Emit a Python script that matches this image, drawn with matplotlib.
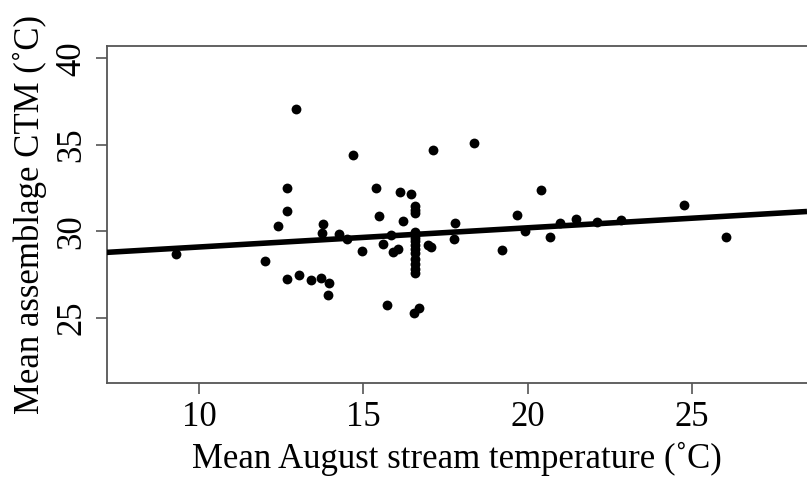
import matplotlib
matplotlib.use("Agg")
import matplotlib.pyplot as plt
import numpy as np

# Mean August stream temperature (x) and mean assemblage CTM (y)
stream_temp = [
    9.29, 12.02, 12.41, 12.68, 12.68, 12.68, 12.94, 13.05, 13.41, 13.73,
    13.77, 13.74, 13.96, 13.93, 14.27, 14.50, 14.69, 14.96, 15.39, 15.48,
    15.59, 15.72, 15.91, 16.07, 15.85, 16.13, 16.21, 16.46,
    16.58, 16.58, 16.58, 16.58, 16.58, 16.58, 16.58, 16.58, 16.58, 16.58,
    16.58, 16.58, 16.58, 16.58,
    16.55, 16.70, 16.98, 17.05, 17.13, 17.77, 17.78, 18.38, 19.23, 19.67,
    19.93, 20.40, 20.69, 21.00, 21.48, 22.11, 22.85, 24.76, 26.05,
]
ctm = [
    28.70, 28.28, 30.33, 32.51, 31.17, 27.23, 37.08, 27.46, 27.16, 27.32,
    30.42, 29.91, 27.01, 26.31, 29.84, 29.54, 34.41, 28.85, 32.51, 30.89,
    29.27, 25.75, 28.78, 28.99, 29.77, 32.29, 30.61, 32.15,
    31.45, 31.25, 31.05, 29.97, 29.80, 29.62, 29.42, 29.20, 28.97, 28.72,
    28.40, 28.12, 27.84, 27.56,
    25.28, 25.58, 29.23, 29.10, 34.69, 29.55, 30.48, 35.11, 28.92, 30.95,
    30.02, 32.36, 29.68, 30.50, 30.69, 30.55, 30.63, 31.53, 29.68,
]

# fitted regression line
fit_intercept = 27.98
fit_slope = 0.111

x_ticks = [10, 15, 20, 25]
y_ticks = [25, 30, 35, 40]

plt.rcParams["font.family"] = ["Liberation Serif", "DejaVu Serif"]

fig = plt.figure(figsize=(8.07, 4.79), dpi=100)
ax = fig.add_axes([0.132, 0.201, 0.868, 0.7035])

ax.scatter(stream_temp, ctm, s=50, color="black", zorder=3, linewidths=0)

xlim = (7.19, 28.5)
xs = np.array(xlim)
ax.plot(xs, fit_intercept + fit_slope * xs, color="black", linewidth=4.0,
        solid_capstyle="butt", zorder=4)

ax.set_xlim(*xlim)
ax.set_ylim(21.24, 40.73)
ax.set_xticks(x_ticks)
ax.set_yticks(y_ticks)
ax.set_yticklabels([str(v) for v in y_ticks], rotation=90, va="center")

for side in ("left", "bottom", "top"):
    ax.spines[side].set_color("#555555")
    ax.spines[side].set_linewidth(1.3)
ax.spines["right"].set_visible(False)

ax.tick_params(axis="both", direction="out", length=8, width=1.2,
               color="#555555", labelsize=25, pad=5)

ax.set_xlabel("Mean August stream temperature (˚C)", fontsize=25, labelpad=6)
ax.set_ylabel("Mean assemblage CTM (˚C)", fontsize=25, labelpad=6)

fig.savefig("out.png", dpi=100)
plt.close(fig)
